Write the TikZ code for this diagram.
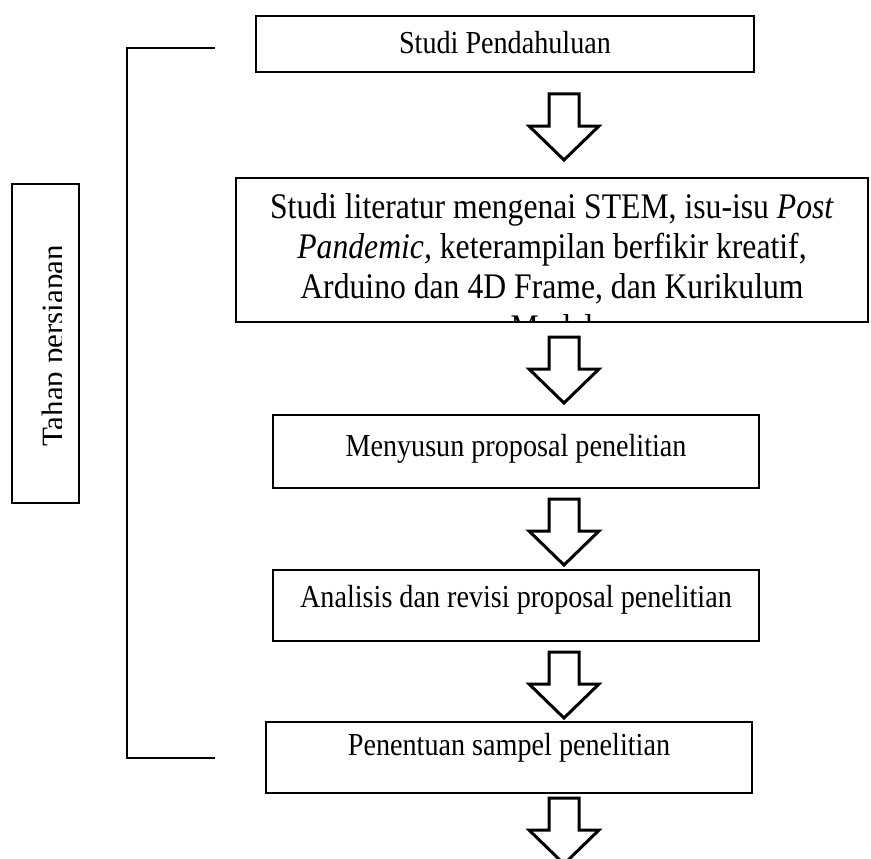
\documentclass[tikz,border=0pt]{standalone}
\usepackage{fontspec}
\setmainfont{Liberation Serif}
\newfontfamily\boxfont[FakeStretch=0.88]{Liberation Serif}
\tikzset{
  stepbox/.style={draw=black, line width=1.4pt, rectangle, inner sep=0pt},
  boxtext/.style={font=\boxfont\fontsize{32}{38}\selectfont, inner sep=0pt, anchor=base},
  bigtext/.style={font=\boxfont\fontsize{36}{40}\selectfont, inner sep=0pt, anchor=base},
  sidetext/.style={font=\fontsize{31}{38}\selectfont, inner sep=0pt, anchor=base, rotate=90},
  hollowarrow/.style={draw=black, line width=3pt, fill=white, line join=miter},
  bracketline/.style={draw=black, line width=1.8pt},
  downarrow/.pic={\draw[hollowarrow] (-15,0) -- (15,0) -- (15,32) -- (35,32) -- (0,66) -- (-35,32) -- (-15,32) -- cycle;}
}
\begin{document}
\begin{tikzpicture}[x=1pt,y=-1pt]
\useasboundingbox (0,0) rectangle (871,859);
% boxes
\node[stepbox, minimum width=498pt, minimum height=56pt] (b1) at (505,44) {};
\node[stepbox, minimum width=632pt, minimum height=144pt] (b2) at (552,250) {};
\node[stepbox, minimum width=486pt, minimum height=73pt] (b3) at (516,451.5) {};
\node[stepbox, minimum width=486pt, minimum height=71pt] (b4) at (516,605.5) {};
\node[stepbox, minimum width=486pt, minimum height=71pt] (b5) at (509,757.5) {};
% texts
\node[boxtext] (t1) at (505,54) {Studi Pendahuluan};
\begin{scope}
  \clip (b2.south west) rectangle (b2.north east);
  \node[bigtext] (t2a) at (552,218) {Studi literatur mengenai STEM, isu-isu \textit{Post}};
  \node[bigtext] (t2b) at (552,258) {\textit{Pandemic,} keterampilan berfikir kreatif,};
  \node[bigtext] (t2c) at (552,298) {Arduino dan 4D Frame, dan Kurikulum};
  \node[bigtext] (t2d) at (552,339) {Model};
\end{scope}
\node[boxtext] (t3) at (516,456) {Menyusun proposal penelitian};
\node[boxtext] (t4) at (516,607) {Analisis dan revisi proposal penelitian};
\node[boxtext] (t5) at (509,755) {Penentuan sampel penelitian};
% arrows
\pic (a1) at (564,94) {downarrow};
\pic (a2) at (564,337) {downarrow};
\pic (a3) at (564,499) {downarrow};
\pic (a4) at (564,652) {downarrow};
\pic (a5) at (564,798) {downarrow};
% bracket
\coordinate (brtop) at (215,48);
\coordinate (brtopc) at (127,48);
\coordinate (brbotc) at (127,758);
\coordinate (brbot) at (215,758);
\draw[bracketline] (brtop) -- (brtopc) -- (brbotc) -- (brbot);
% side label
\node[stepbox, minimum width=67pt, minimum height=319pt] (lb) at (45.5,343.5) {};
\begin{scope}
  \clip (12,184) rectangle (61.5,503);
  \node[sidetext] (lt) at (63,346) {Tahap persiapan};
\end{scope}
\end{tikzpicture}
\end{document}
